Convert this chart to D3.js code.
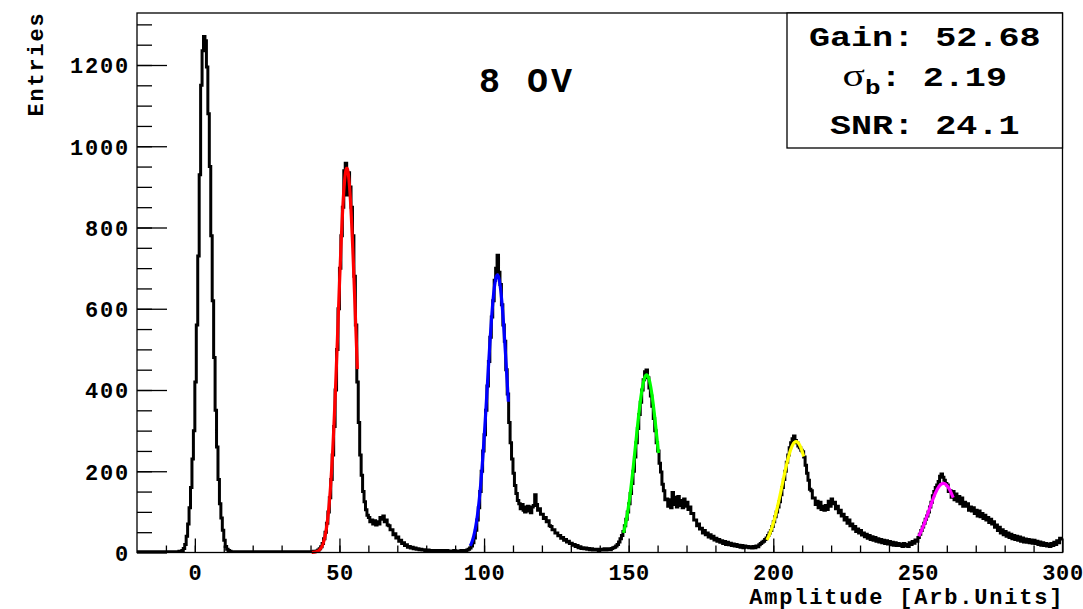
<!DOCTYPE html>
<html>
<head>
<meta charset="utf-8">
<script src="https://cdn.jsdelivr.net/npm/d3@7"></script>
<style>
  html, body { margin: 0; padding: 0; background: #fff; }
  svg { display: block; }
</style>
</head>
<body>
<svg id="chart" width="1083" height="609"></svg>
<script>
// Histogram: 0.5 unit bins starting at -20 (two values per unit)
const binStart = -20;
const binWidth = 0.5;
const counts = [
  1,2, 1,1, 2,1, 1,2, 1,1, 2,1, 1,2, 1,1, 2,1, 1,2,                          // -20 .. -11
  2,1, 1,2, 2,2, 2,2, 2,3, 3,5, 10,20, 40,70, 110,160, 230,300,              // -10 .. -1
  420,560, 730,930, 1150,1235, 1270,1260, 1195,1080, 950,780, 620,480, 350,260, 180,120, 85,55, // 0 .. 9
  30,15, 8,5, 3,2, 2,1, 2,2, 1,2, 1,1, 2,1, 1,2, 2,1,                        // 10 .. 19
  1,2, 1,1, 2,1, 2,1, 1,2, 1,1, 2,1, 1,2, 2,1, 1,2,                          // 20 .. 29
  2,1, 1,2, 2,2, 1,2, 2,1, 2,2, 1,2, 2,2, 1,2, 2,2,                          // 30 .. 39
  2,2, 3,3, 4,6, 9,14, 22,34, 50,72, 100,135, 180,240, 310,400, 500,600,     // 40 .. 49
  700,780, 850,940, 958,880, 935,900, 850,780, 680,560, 420,320, 240,190, 150,125, 105,92, // 50 .. 59
  86,76, 80,70, 78,68, 76,70, 86,82, 90,76, 80,68, 66,56, 56,44, 46,36,      // 60 .. 69
  38,28, 30,22, 24,17, 19,13, 15,11, 13,9, 11,8, 9,7, 8,6, 7,5,              // 70 .. 79
  5,6, 5,4, 5,5, 4,4, 5,4, 4,5, 4,4, 5,4, 3,4, 4,5,                          // 80 .. 89
  4,4, 3,4, 5,4, 4,5, 6,8, 11,16, 24,36, 55,80, 110,150, 200,250,            // 90 .. 99
  290,350, 410,470, 530,580, 620,670, 700,732, 690,660, 610,560, 520,450, 390,320, 270,230, // 100 .. 109
  195,165, 145,128, 120,108, 118,104, 100,112, 114,102, 98,112, 116,142, 118,104, 108,94,   // 110 .. 119
  94,84, 86,76, 78,66, 64,56, 56,48, 48,41, 42,35, 37,30, 32,26, 28,22,      // 120 .. 129
  23,18, 20,15, 17,12, 14,10, 12,9, 11,8, 10,7, 9,6, 8,6, 8,5,               // 130 .. 139
  8,6, 7,9, 6,8, 9,7, 10,12, 13,16, 20,26, 34,42, 52,66, 82,100,             // 140 .. 149
  120,145, 170,200, 235,270, 305,340, 370,400, 425,445, 449,430, 405,385, 360,330, 300,270, // 150 .. 159
  250,220, 198,168, 152,130, 132,114, 130,110, 148,118, 136,112, 138,116, 128,110, 132,114, // 160 .. 169
  124,106, 112,96, 96,80, 80,66, 70,58, 60,48, 54,44, 48,38, 44,35, 40,31,   // 170 .. 179
  35,28, 32,25, 29,22, 27,20, 25,19, 23,17, 21,16, 20,15, 18,13, 17,12,      // 180 .. 189
  16,13, 15,12, 14,11, 15,12, 16,14, 19,22, 25,28, 32,36, 42,48, 54,64,      // 190 .. 199
  76,88, 100,112, 125,142, 160,180, 200,222, 240,258, 270,280, 287,276, 270,262, 258,252,   // 200 .. 209
  248,235, 215,195, 178,156, 152,134, 134,118, 126,110, 124,106, 114,104, 116,106, 126,114, // 210 .. 219
  132,120, 124,108, 114,98, 104,90, 94,80, 86,72, 80,66, 70,58, 64,52, 58,48,               // 220 .. 229
  54,43, 48,39, 45,35, 42,32, 39,30, 37,28, 34,26, 32,24, 30,22, 29,21,      // 230 .. 239
  27,19, 25,18, 24,17, 22,17, 21,15, 22,16, 20,15, 24,20, 27,23, 31,28,      // 240 .. 249
  37,45, 54,63, 72,82, 90,100, 112,124, 140,150, 160,166, 175,188, 193,185, 178,170,        // 250 .. 259
  166,150, 152,136, 150,130, 144,126, 138,120, 134,114, 124,114, 120,104, 112,102, 110,96,  // 260 .. 269
  104,90, 102,88, 96,84, 92,80, 86,74, 82,70, 76,62, 68,54, 62,48, 56,44,    // 270 .. 279
  52,40, 48,37, 45,34, 42,32, 40,30, 38,28, 36,26, 33,25, 32,24, 31,23,      // 280 .. 289
  30,22, 28,20, 26,18, 24,17, 22,16, 21,15, 22,17, 25,20, 29,24, 35,33       // 290 .. 299
];

// Gaussian fits of the photo-electron peaks
const fitColors = ['#ff0000', '#0000ff', '#00ff00', '#ffff00', '#ff00ff'];
const fitAmp    = [946, 683, 437, 273, 170];
const fitMean   = [52.55, 104.6, 156.2, 207.9, 258.8];
const fitSigma  = [3.0, 3.44, 3.81, 4.84, 5.0];
const fitFrom   = [40.4, 95.2, 148.2, 197.8, 250.3];
const fitTo     = [56.2, 108.4, 160.3, 210.5, 262.2];

const xDomain = [-20, 300];
const yDomain = [0, 1328];
const xMajorTicks = [0, 50, 100, 150, 200, 250, 300];
const xMinorTicks = d3.range(-10, 300, 10);
const yMajorTicks = [0, 200, 400, 600, 800, 1000, 1200];
const yMinorTicks = d3.range(50, 1328, 50);

const xTitle = 'Amplitude [Arb.Units]';
const yTitle = 'Entries';
const voltageLabel = '8 OV';
const gainText = 'Gain: 52.68';
const sigmaText = ': 2.19';
const snrText = 'SNR: 24.1';

// Layout
const frame = { left: 137, right: 1062.5, top: 13, bottom: 552.5 };
const MONO = "'Liberation Mono', 'DejaVu Sans Mono', monospace";
const SERIF = "'Liberation Serif', 'DejaVu Serif', serif";

const svg = d3.select('#chart');

const x = d3.scaleLinear().domain(xDomain).range([frame.left, frame.right]);
const y = d3.scaleLinear().domain(yDomain).range([frame.bottom, frame.top]);

svg.append('defs').append('clipPath').attr('id', 'frameClip')
  .append('rect')
  .attr('x', frame.left).attr('y', frame.top - 2)
  .attr('width', frame.right - frame.left).attr('height', frame.bottom - frame.top + 2);

// Histogram as step line
const steps = counts.map((c, i) => [binStart + i * binWidth, c]);
steps.push([binStart + counts.length * binWidth, counts[counts.length - 1]]);

svg.append('path')
  .attr('clip-path', 'url(#frameClip)')
  .attr('d', d3.line().x(d => x(d[0])).y(d => y(d[1])).curve(d3.curveStepAfter)(steps))
  .attr('fill', 'none')
  .attr('stroke', '#000')
  .attr('stroke-width', 3);

// Fit curves
fitColors.forEach((col, k) => {
  const pts = d3.range(fitFrom[k], fitTo[k] + 0.001, 0.1).map(v =>
    [v, fitAmp[k] * Math.exp(-0.5 * Math.pow((v - fitMean[k]) / fitSigma[k], 2))]);
  svg.append('path')
    .attr('d', d3.line().x(d => x(d[0])).y(d => y(d[1]))(pts))
    .attr('fill', 'none')
    .attr('stroke', col)
    .attr('stroke-width', 3.2);
});

// Frame
svg.append('rect')
  .attr('x', frame.left).attr('y', frame.top)
  .attr('width', frame.right - frame.left).attr('height', frame.bottom - frame.top)
  .attr('fill', 'none').attr('stroke', '#000').attr('stroke-width', 1.3);

// Axes, ticks pointing inside the frame
const styleAxis = g => {
  g.attr('font-family', MONO).attr('font-size', 22).attr('font-weight', 'bold');
  g.select('.domain').remove();
  g.selectAll('.tick line').attr('stroke', '#000').attr('stroke-width', 1.3);
};

svg.append('g')
  .attr('transform', `translate(${frame.left},0)`)
  .call(d3.axisLeft(y).tickValues(yMinorTicks).tickSize(-15).tickFormat(''))
  .call(styleAxis);

svg.append('g')
  .attr('transform', `translate(${frame.left},0)`)
  .call(d3.axisLeft(y).tickValues(yMajorTicks).tickSize(-30).tickPadding(7).tickFormat(d3.format('d')))
  .call(styleAxis)
  .call(g => g.selectAll('.tick text')
    .attr('fill', '#000')
    .attr('letter-spacing', 1.8)
    .attr('dy', '0.36em'));

svg.append('g')
  .attr('transform', `translate(0,${frame.bottom})`)
  .call(d3.axisBottom(x).tickValues(xMinorTicks).tickSize(-7).tickFormat(''))
  .call(styleAxis);

svg.append('g')
  .attr('transform', `translate(0,${frame.bottom})`)
  .call(d3.axisBottom(x).tickValues(xMajorTicks).tickSize(-14).tickPadding(0).tickFormat(d3.format('d')))
  .call(styleAxis)
  .call(g => g.selectAll('.tick text')
    .attr('fill', '#000')
    .attr('letter-spacing', 0.6)
    .attr('x', 0)
    .attr('y', 27)
    .attr('dy', 0));

// Axis titles
svg.append('text')
  .attr('x', frame.right + 1.8).attr('y', 603.5)
  .attr('text-anchor', 'end')
  .attr('font-family', MONO).attr('font-size', 22).attr('font-weight', 'bold')
  .attr('letter-spacing', 1.8)
  .text(xTitle);

svg.append('text')
  .attr('transform', `translate(43,${frame.top - 1.5}) rotate(-90)`)
  .attr('text-anchor', 'end')
  .attr('font-family', MONO).attr('font-size', 22).attr('font-weight', 'bold')
  .attr('letter-spacing', 1.8)
  .text(yTitle);

// Voltage label
svg.append('text')
  .attr('x', 479).attr('y', 92)
  .attr('font-family', MONO).attr('font-size', 35).attr('font-weight', 'bold')
  .attr('letter-spacing', 3)
  .text(voltageLabel);

// Stats box
const box = { x: 787, y: frame.top, w: frame.right - 787, h: 135 };
svg.append('rect')
  .attr('x', box.x).attr('y', box.y).attr('width', box.w).attr('height', box.h)
  .attr('fill', '#fff').attr('stroke', '#000').attr('stroke-width', 1.3);

const cx = box.x + box.w / 2;
const statText = (yy) => svg.append('text')
  .attr('transform', `translate(${cx},${yy}) scale(1.3,1)`)
  .attr('text-anchor', 'middle')
  .attr('font-family', MONO).attr('font-size', 27).attr('font-weight', 'bold');

statText(46).text(gainText);
const sig = statText(86);
sig.append('tspan').attr('font-family', SERIF).attr('font-weight', 'normal').attr('font-size', 32).text('σ');
sig.append('tspan').attr('font-size', 20).attr('dy', 8).text('b');
sig.append('tspan').attr('dy', -8).text(sigmaText);
statText(134).text(snrText);
</script>
</body>
</html>
